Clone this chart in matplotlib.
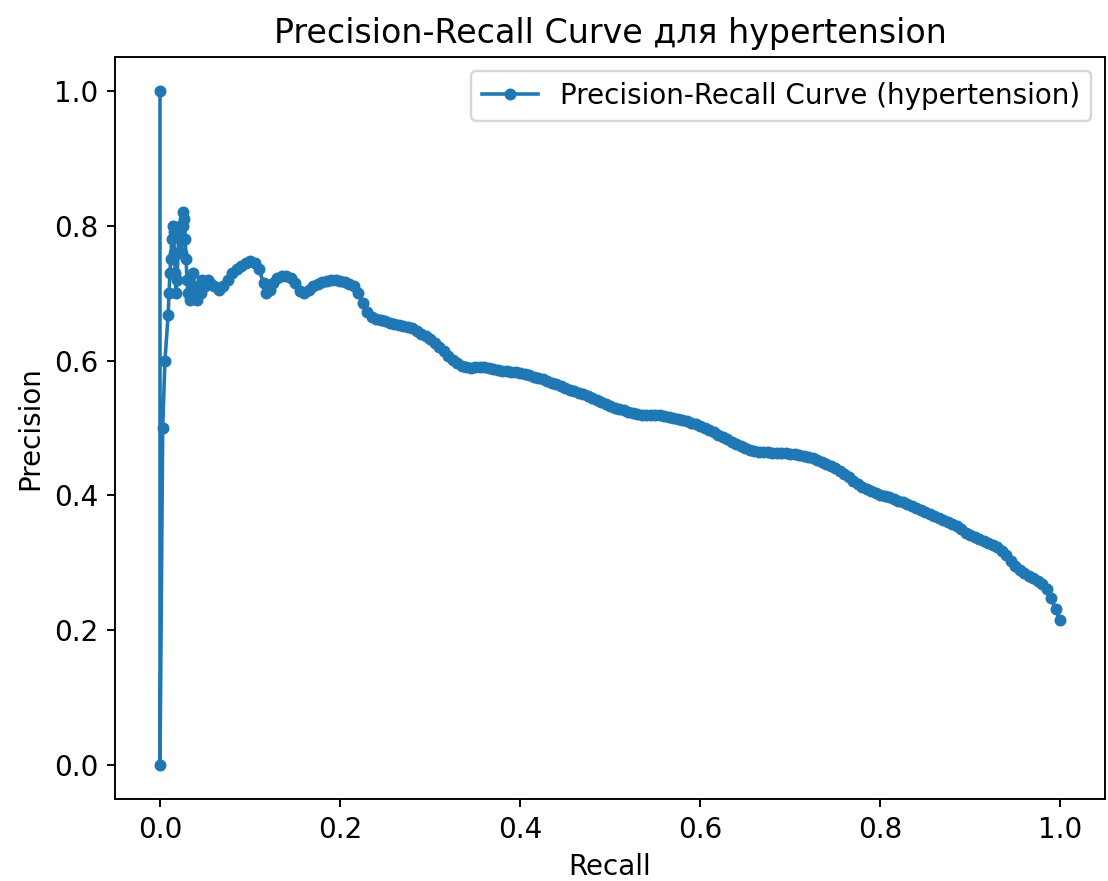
import matplotlib
matplotlib.use("Agg")
import matplotlib.pyplot as plt

plt.rcParams["font.size"] = 11.6

# recall / precision (ordered left to right)
recall = [
    0.000, 0.000, 0.003, 0.0055, 0.009,
    0.010, 0.011, 0.012, 0.013, 0.014, 0.015, 0.016, 0.017, 0.018, 0.019,
    0.020, 0.021, 0.022, 0.023, 0.024, 0.025, 0.026, 0.027, 0.028, 0.029,
    0.030, 0.031, 0.033, 0.035, 0.037, 0.039, 0.041, 0.043, 0.045, 0.047,
    0.050, 0.053, 0.056, 0.060, 0.065, 0.070, 0.075, 0.080, 0.085, 0.090,
    0.095, 0.100, 0.105, 0.110, 0.115, 0.118, 0.122, 0.126, 0.130, 0.135,
    0.140, 0.145, 0.150, 0.155, 0.160, 0.165, 0.170, 0.175, 0.180, 0.185,
    0.190, 0.195, 0.200, 0.205, 0.210, 0.215, 0.220, 0.225, 0.230, 0.235,
    0.240, 0.245, 0.250, 0.255, 0.260, 0.265, 0.270, 0.275, 0.280, 0.285,
    0.290, 0.295, 0.300, 0.305, 0.310, 0.315, 0.320, 0.325, 0.330, 0.335,
    0.340, 0.345, 0.350, 0.355, 0.360, 0.365, 0.370, 0.375, 0.380, 0.385,
    0.390, 0.395, 0.400, 0.405, 0.410, 0.415, 0.420, 0.425, 0.430, 0.435,
    0.440, 0.445, 0.450, 0.455, 0.460, 0.465, 0.470, 0.475, 0.480, 0.485,
    0.490, 0.495, 0.500, 0.505, 0.510, 0.515, 0.520, 0.525, 0.530, 0.535,
    0.540, 0.545, 0.550, 0.555, 0.560, 0.565, 0.570, 0.575, 0.580, 0.585,
    0.590, 0.595, 0.600, 0.605, 0.610, 0.615, 0.620, 0.625, 0.630, 0.635,
    0.640, 0.645, 0.650, 0.655, 0.660, 0.665, 0.670, 0.675, 0.680, 0.685,
    0.690, 0.695, 0.700, 0.705, 0.710, 0.715, 0.720, 0.725, 0.730, 0.735,
    0.740, 0.745, 0.750, 0.755, 0.760, 0.765, 0.770, 0.775, 0.780, 0.785,
    0.790, 0.795, 0.800, 0.805, 0.810, 0.815, 0.820, 0.825, 0.830, 0.835,
    0.840, 0.845, 0.850, 0.855, 0.860, 0.865, 0.870, 0.875, 0.880, 0.885,
    0.890, 0.895, 0.900, 0.905, 0.910, 0.915, 0.920, 0.925, 0.930, 0.935,
    0.940, 0.945, 0.950, 0.955, 0.960, 0.965, 0.970, 0.975, 0.980, 0.985,
    0.990, 0.995, 1.000,
]
precision = [
    1.000, 0.000, 0.500, 0.600, 0.667,
    0.700, 0.730, 0.750, 0.780, 0.800, 0.790, 0.760, 0.730, 0.700, 0.720,
    0.760, 0.790, 0.800, 0.780, 0.760, 0.800, 0.820, 0.810, 0.780, 0.750,
    0.720, 0.700, 0.690, 0.710, 0.730, 0.700, 0.690, 0.710, 0.700, 0.720,
    0.710, 0.720, 0.715, 0.710, 0.705, 0.710, 0.720, 0.730, 0.735, 0.740,
    0.745, 0.748, 0.744, 0.735, 0.715, 0.700, 0.705, 0.715, 0.722, 0.725,
    0.726, 0.722, 0.715, 0.703, 0.700, 0.705, 0.710, 0.713, 0.716, 0.718,
    0.720, 0.720, 0.718, 0.717, 0.714, 0.710, 0.700, 0.685, 0.672, 0.665,
    0.662, 0.660, 0.658, 0.656, 0.654, 0.652, 0.651, 0.650, 0.648, 0.644,
    0.640, 0.636, 0.632, 0.626, 0.620, 0.614, 0.607, 0.601, 0.596, 0.592,
    0.590, 0.589, 0.590, 0.591, 0.590, 0.589, 0.588, 0.586, 0.585, 0.584,
    0.583, 0.583, 0.582, 0.580, 0.578, 0.576, 0.574, 0.572, 0.570, 0.567,
    0.565, 0.562, 0.560, 0.557, 0.555, 0.552, 0.550, 0.548, 0.545, 0.542,
    0.539, 0.536, 0.533, 0.530, 0.528, 0.526, 0.524, 0.522, 0.521, 0.520,
    0.520, 0.520, 0.520, 0.519, 0.518, 0.516, 0.515, 0.514, 0.512, 0.510,
    0.508, 0.506, 0.503, 0.500, 0.497, 0.494, 0.490, 0.486, 0.483, 0.479,
    0.476, 0.473, 0.470, 0.468, 0.466, 0.465, 0.464, 0.464, 0.463, 0.463,
    0.463, 0.463, 0.462, 0.461, 0.460, 0.459, 0.457, 0.455, 0.452, 0.449,
    0.446, 0.443, 0.440, 0.436, 0.432, 0.427, 0.422, 0.417, 0.413, 0.409,
    0.406, 0.403, 0.401, 0.399, 0.397, 0.395, 0.392, 0.390, 0.387, 0.384,
    0.381, 0.378, 0.375, 0.372, 0.369, 0.366, 0.363, 0.360, 0.357, 0.354,
    0.350, 0.345, 0.341, 0.338, 0.335, 0.333, 0.330, 0.327, 0.323, 0.318,
    0.312, 0.303, 0.295, 0.290, 0.285, 0.281, 0.277, 0.273, 0.268, 0.262,
    0.248, 0.232, 0.215,
]
label = "hypertension"

fig = plt.figure(figsize=(1108 / 172, 881 / 172), dpi=172)
ax = fig.add_axes([115 / 1108, 82 / 881, 990 / 1108, 742 / 881])

ax.plot(recall, precision, marker=".", markersize=8,
        label=f"Precision-Recall Curve ({label})")
ax.set_xlabel("Recall")
ax.set_ylabel("Precision")
ax.set_title(f"Precision-Recall Curve для {label}")
ax.legend()

fig.savefig("out.png", dpi=172)
